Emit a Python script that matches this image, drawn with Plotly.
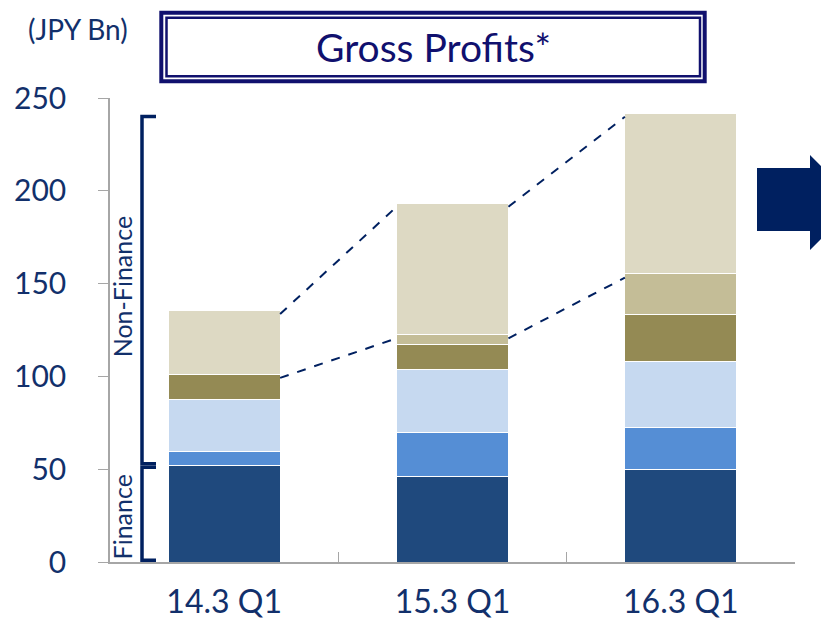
import plotly.graph_objects as go
import numpy as np

# ---- data (JPY Bn) ----
quarters = ["14.3 Q1", "15.3 Q1", "16.3 Q1"]
finance_a = [52.0, 46.2, 49.8]      # dark blue
finance_b = [7.7, 23.7, 22.5]       # mid blue
nonfin_a = [28.0, 33.8, 35.5]       # light blue
nonfin_b = [13.5, 13.4, 25.5]       # olive
nonfin_c = [0.0, 5.4, 21.9]         # khaki
nonfin_d = [34.4, 70.9, 86.7]       # beige (top)
y_ticks = [0, 50, 100, 150, 200, 250]

series = [
    (finance_a, "#1F497D"),
    (finance_b, "#558ED5"),
    (nonfin_a, "#C6D9F0"),
    (nonfin_b, "#948A54"),
    (nonfin_c, "#C4BD97"),
    (nonfin_d, "#DDD9C3"),
]

NAVY = "#002060"
TXT = "#12306B"
TITLE = "#10106E"
FONT = "Lato"

# page has an 8px body margin, so the figure sits at (8, 8) in the window
OFF = 8
W, H = 829 - OFF, 620 - OFF
# plot area in window pixels
L, R, T, B = 110, 795, 98, 562


def px(x):
    return (x - L) / (R - L)


def py(y):
    return (B - y) / (B - T)


BAR_W = 0.49

fig = go.Figure()
for vals, col in series:
    fig.add_trace(go.Bar(
        x=quarters, y=vals, width=BAR_W,
        marker=dict(color=col, line=dict(color="white", width=1)),
        showlegend=False, hoverinfo="skip",
    ))

# dashed connectors between the top (beige) segments
tops = np.sum([s[0] for s in series], axis=0)
beige_base = tops - np.array(nonfin_d)
shapes = []
for i in range(len(quarters) - 1):
    for lvl in (tops, beige_base):
        shapes.append(dict(
            type="line", xref="x", yref="y",
            x0=i + BAR_W / 2, y0=lvl[i] - 2, x1=i + 1 - BAR_W / 2, y1=lvl[i + 1] - 2,
            line=dict(color=NAVY, width=2, dash="dash"),
        ))

# brackets for Finance / Non-Finance
fin_top = finance_a[0]
bx0, bx1 = px(142), px(156)
for lo, hi in [(fin_top + 1, 240), (1, fin_top - 1)]:
    shapes.append(dict(
        type="path", xref="paper", yref="y",
        path=f"M {bx1},{hi} L {bx0},{hi} L {bx0},{lo} L {bx1},{lo}",
        line=dict(color=NAVY, width=3.5),
    ))

# double-bordered title box
shapes.append(dict(type="rect", xref="paper", yref="paper",
                   x0=px(161.3), x1=px(704.7), y0=py(81.3), y1=py(12.7),
                   line=dict(color=TITLE, width=4)))
shapes.append(dict(type="rect", xref="paper", yref="paper",
                   x0=px(166.5), x1=px(700), y0=py(76.3), y1=py(17.7),
                   line=dict(color=TITLE, width=2.5)))

# block arrow on the right
ax = [757, 810, 810, 858, 810, 810, 757]
ay = [168, 168, 155, 202.5, 250, 231, 231]
path = "M " + " L ".join(f"{px(a)},{py(b)}" for a, b in zip(ax, ay)) + " Z"
shapes.append(dict(type="path", xref="paper", yref="paper", path=path,
                   fillcolor=NAVY, line=dict(color=NAVY, width=0)))

annotations = [
    dict(text="Gross Profits*", xref="paper", yref="paper", x=px(433), y=py(47),
         xanchor="center", yanchor="middle", showarrow=False,
         font=dict(family=FONT, size=39, color=TITLE)),
    dict(text="(JPY Bn)", xref="paper", yref="paper", x=px(78), y=py(29),
         xanchor="center", yanchor="middle", showarrow=False,
         font=dict(family=FONT, size=28, color=TXT)),
    dict(text="Non-Finance", xref="paper", yref="y", x=px(122), y=(240 + fin_top) / 2 + 2,
         xanchor="center", yanchor="middle", textangle=-90, showarrow=False,
         font=dict(family=FONT, size=25, color=TXT)),
    dict(text="Finance", xref="paper", yref="y", x=px(122), y=fin_top / 2 - 2,
         xanchor="center", yanchor="middle", textangle=-90, showarrow=False,
         font=dict(family=FONT, size=25, color=TXT)),
]

fig.update_layout(
    barmode="stack",
    width=W, height=H,
    margin=dict(l=L - OFF, r=W - (R - OFF), t=T - OFF, b=H - (B - OFF)),
    paper_bgcolor="white", plot_bgcolor="white",
    shapes=shapes, annotations=annotations,
    font=dict(family=FONT, color=TXT),
)
fig.update_xaxes(
    showline=True, linecolor="#A6A6A6", linewidth=1.5,
    ticks="inside", tickson="boundaries", ticklen=10, tickcolor="#A6A6A6",
    tickfont=dict(size=32, color=TXT), ticklabelstandoff=11,
    showgrid=False, range=[-0.5, 2.5], automargin=False,
)
fig.update_yaxes(
    range=[0, 250], tickvals=y_ticks,
    showline=True, linecolor="#A6A6A6", linewidth=1.5,
    ticks="outside", ticklen=10, tickcolor="#A6A6A6",
    tickfont=dict(size=30, color=TXT), ticklabelstandoff=26,
    showgrid=False, zeroline=False, automargin=False,
)

fig.write_html("out.html")
